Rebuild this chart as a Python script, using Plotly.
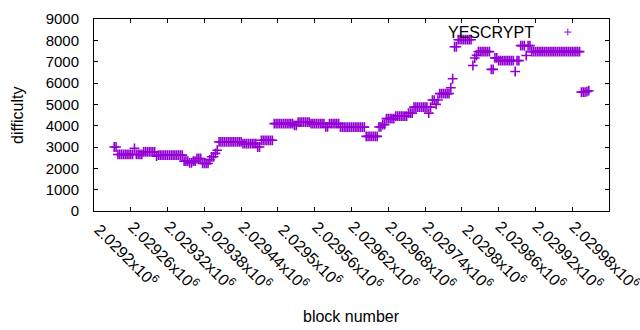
import plotly.graph_objects as go

# ---- data ----
series_name = "YESCRYPT"
blocks = list(range(2029173, 2029948, 3))
difficulty = [
    3000, 3000,
    2650, 2650, 2650, 2650, 2650, 2650, 2650, 2650, 2650,
    2940,
    2650, 2650, 2650, 2650,
    2770, 2770, 2770, 2770, 2770, 2770, 2770,
    2570,
    2620, 2620, 2620, 2620, 2620, 2620, 2620, 2620, 2620, 2620, 2620, 2620, 2620, 2620,
    2340, 2340, 2340,
    2260, 2260,
    2340, 2340,
    2460, 2460, 2460,
    2230, 2230, 2230, 2230,
    2400,
    2540, 2540,
    2700,
    2850,
    3240, 3240, 3240, 3240, 3240, 3240, 3240, 3240, 3240, 3240, 3240, 3240, 3240,
    3160, 3160, 3160, 3160, 3160, 3160, 3160, 3160,
    3000, 3000,
    3315, 3315, 3315, 3315, 3315, 3315, 3315,
    4095, 4095, 4095, 4095, 4095, 4095, 4095, 4095, 4095, 4095, 4095,
    4015, 4015,
    4170, 4170, 4170, 4170, 4170, 4170, 4170,
    4095, 4095, 4095, 4095, 4095, 4095, 4095, 4095,
    3940, 3940,
    4095, 4095, 4095, 4095, 4095, 4095,
    3930, 3930, 3930, 3930, 3930, 3930, 3930, 3930, 3930, 3930, 3930, 3930, 3930, 3930,
    3500, 3500, 3500, 3500, 3500, 3500, 3500,
    3940, 3940,
    4050, 4050,
    4330, 4330, 4330, 4330, 4330,
    4450, 4450, 4450, 4450, 4450, 4450, 4450,
    4590, 4590, 4590,
    4870, 4870, 4870, 4870, 4870, 4870, 4870, 4870,
    4590,
    4870,
    5200, 5200,
    5000,
    5200,
    5500, 5500, 5500, 5500, 5500, 5500,
    5780,
    6200,
    7700, 7700,
    8030, 8030, 8030, 8030, 8030, 8030, 8030, 8030,
    6820,
    7170,
    7300,
    7470, 7470, 7470, 7470, 7470, 7470, 7470,
    6640, 6640,
    7180, 7180,
    7050, 7050, 7050, 7050, 7050, 7050, 7050, 7050, 7050,
    6540,
    7050, 7050,
    7750, 7750, 7750,
    7290,
    7750, 7750,
    7470, 7470, 7470, 7470, 7470, 7470, 7470, 7470, 7470, 7470, 7470, 7470, 7470, 7470,
    7470, 7470, 7470, 7470, 7470, 7470, 7470, 7470, 7470, 7470, 7470, 7470, 7470,
    5570, 5570, 5570,
    5600,
    5640,
]

x_tick_values = [2029200, 2029260, 2029320, 2029380, 2029440, 2029500, 2029560,
                 2029620, 2029680, 2029740, 2029800, 2029860, 2029920, 2029980]
x_tick_mantissa = ["2.0292", "2.02926", "2.02932", "2.02938", "2.02944", "2.0295", "2.02956",
                   "2.02962", "2.02968", "2.02974", "2.0298", "2.02986", "2.02992", "2.02998"]
y_tick_values = [0, 1000, 2000, 3000, 4000, 5000, 6000, 7000, 8000, 9000]

x_range = [2029140, 2029980]
y_range = [0, 9000]

COLOR = "#9400D3"
FONT = "Liberation Sans"
n = min(len(blocks), len(difficulty))

fig = go.Figure()
fig.add_trace(go.Scatter(
    x=blocks[:n], y=difficulty[:n], mode="markers", name=series_name,
    marker=dict(symbol="cross-thin", size=7, color=COLOR,
                line=dict(width=1.6, color=COLOR)),
    showlegend=False, hoverinfo="skip",
))

annotations = []
for v, m in zip(x_tick_values, x_tick_mantissa):
    annotations.append(dict(
        x=v, xref="x", y=0, yref="paper", text=m + "x10<sup>6</sup>",
        showarrow=False, textangle=45, xanchor="center", yanchor="middle",
        xshift=-4, yshift=-44, font=dict(family=FONT, size=16, color="black"),
    ))
annotations.append(dict(
    x=0.5, xref="paper", y=0, yref="paper", text="block number", showarrow=False,
    xanchor="center", yanchor="middle", yshift=-105,
    font=dict(family=FONT, size=16, color="black")))
annotations.append(dict(
    x=0, xref="paper", y=0.5, yref="paper", text="difficulty", showarrow=False,
    textangle=-90, xanchor="center", yanchor="middle", xshift=-77,
    font=dict(family=FONT, size=16, color="black")))
annotations.append(dict(
    x=0.859, xref="paper", y=0.932, yref="paper", text=series_name, showarrow=False,
    xanchor="right", yanchor="middle", font=dict(family=FONT, size=16, color="black")))

shapes = [
    dict(type="line", xref="paper", yref="paper", xsizemode="pixel", ysizemode="pixel",
         xanchor=0.920, yanchor=0.932, x0=-3.5, x1=3.5, y0=0, y1=0,
         line=dict(color=COLOR, width=1)),
    dict(type="line", xref="paper", yref="paper", xsizemode="pixel", ysizemode="pixel",
         xanchor=0.920, yanchor=0.932, x0=0, x1=0, y0=-3.5, y1=3.5,
         line=dict(color=COLOR, width=1)),
]

fig.update_layout(
    width=640, height=330,
    margin=dict(l=94, r=31, t=19, b=119, autoexpand=False),
    paper_bgcolor="white", plot_bgcolor="white",
    font=dict(family=FONT, size=15, color="black"),
    annotations=annotations, shapes=shapes,
    showlegend=False, hovermode=False,
)
fig.update_xaxes(
    range=x_range, tickvals=x_tick_values, showticklabels=False,
    ticks="inside", ticklen=4, tickcolor="black", automargin=False,
    showline=True, linecolor="black", linewidth=1, mirror="ticks",
    showgrid=False, zeroline=False,
)
fig.update_yaxes(
    range=y_range, tickvals=y_tick_values, ticks="inside", ticklen=4, tickcolor="black",
    showline=True, linecolor="black", linewidth=1, mirror="ticks", automargin=False,
    showgrid=False, zeroline=False, ticklabelstandoff=11,
    tickfont=dict(family=FONT, size=15, color="black"),
)

fig.write_html("out.html", config={"displayModeBar": False, "staticPlot": True})

# remove the browser's default page margin so the figure sits at the window's corner
with open("out.html", "r", encoding="utf-8") as f:
    html = f.read()
html = html.replace("<head>", "<head><style>html,body{margin:0;padding:0;overflow:hidden;}</style>", 1)
with open("out.html", "w", encoding="utf-8") as f:
    f.write(html)
